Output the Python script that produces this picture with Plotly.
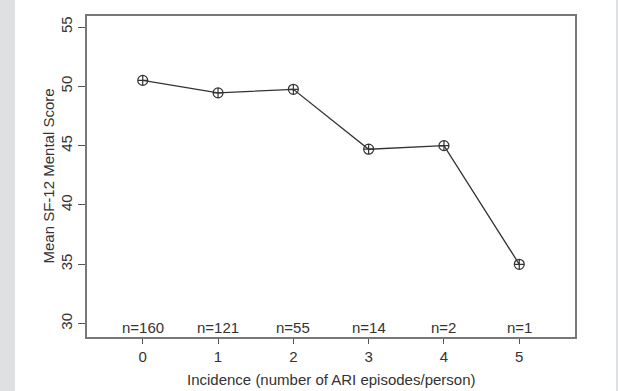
import plotly.graph_objects as go

incidence = [0, 1, 2, 3, 4, 5]
mean_mental = [50.5, 49.45, 49.75, 44.7, 45.0, 35.0]
n_labels = ["n=160", "n=121", "n=55", "n=14", "n=2", "n=1"]
y_ticks = [30, 35, 40, 45, 50, 55]
x_title = "Incidence (number of ARI episodes/person)"
y_title = "Mean SF-12 Mental Score"

W, H = 618, 391
L, R, T, B = 87, 43, 16, 54
pw = W - L - R
ph = H - T - B

fig = go.Figure()
fig.add_trace(go.Scatter(
    x=incidence, y=mean_mental, mode="lines+markers",
    line=dict(color="#333333", width=1.3),
    marker=dict(symbol="circle-cross-open", size=10, color="#333333",
                line=dict(width=1.2, color="#333333")),
    showlegend=False, cliponaxis=False, hoverinfo="skip",
))

for xi, lab in zip(incidence, n_labels):
    fig.add_annotation(x=xi, y=29.71, text=lab, showarrow=False,
                       xanchor="center", yanchor="middle",
                       font=dict(size=15, color="#333333"))

fig.add_annotation(xref="paper", yref="paper", x=0.5, y=-(379 - (T + ph)) / ph,
                   text=x_title, showarrow=False, xanchor="center", yanchor="middle",
                   font=dict(size=15, color="#333333"))
fig.add_annotation(xref="paper", yref="paper", x=(48 - L) / pw, y=0.5,
                   text=y_title, showarrow=False, textangle=-90,
                   xanchor="center", yanchor="middle",
                   font=dict(size=15, color="#333333"))

fig.add_shape(type="rect", xref="paper", yref="paper",
              x0=(15 - L) / pw, x1=(616 - L) / pw, y0=-1, y1=2,
              fillcolor="white", line=dict(width=0), layer="below")

font = "Liberation Sans, Arial, sans-serif"
fig.update_layout(
    width=W, height=H,
    margin=dict(l=L, r=R, t=T, b=B, pad=0, autoexpand=False),
    paper_bgcolor="#dfe0e2", plot_bgcolor="white",
    font=dict(family=font, size=15, color="#333333"),
    xaxis=dict(range=[-0.74, 5.74], tickvals=incidence, automargin=False,
               ticks="outside", ticklen=5, tickwidth=1, tickcolor="#555555",
               showline=True, mirror=True, linecolor="#777777", linewidth=2,
               showgrid=False, zeroline=False, tickfont=dict(size=15)),
    yaxis=dict(range=[28.87, 55.93], tickvals=y_ticks, tickangle=-90,
               automargin=False,
               ticks="outside", ticklen=7, tickwidth=1, tickcolor="#555555",
               showline=True, mirror=True, linecolor="#777777", linewidth=2,
               showgrid=False, zeroline=False, tickfont=dict(size=15)),
)

fig.write_html("out.html", config={"displayModeBar": False, "staticPlot": True},
               post_script="document.body.style.margin='0';document.body.style.overflow='hidden';")
